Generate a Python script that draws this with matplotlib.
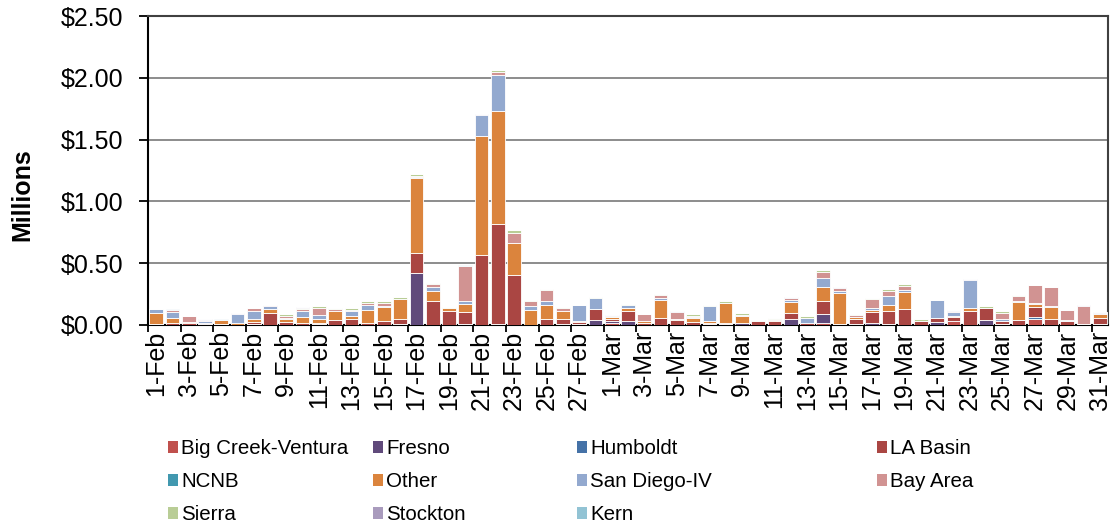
import numpy as np
import pandas as pd
import matplotlib
matplotlib.use('Agg')
import matplotlib.pyplot as plt
from matplotlib.patches import Patch

plt.rcParams['font.family'] = ['Liberation Sans', 'DejaVu Sans']

# one bar per day, 1-Feb .. 31-Mar
dates = pd.date_range('2011-02-01', '2011-03-31')
day_labels = [f'{d.day}-{d.strftime("%b")}' for d in dates]

# values in $ millions
big_creek = [0, 0, 0, 0, 0, 0, 0, 0, 0, 0,
             0, 0, 0, 0, 0, 0, 0, 0, 0, 0.01,
             0, 0, 0, 0, 0, 0, 0, 0, 0.02, 0,
             0, 0, 0, 0, 0, 0, 0, 0, 0, 0,
             0, 0.013, 0, 0, 0, 0, 0, 0, 0, 0.033,
             0, 0, 0, 0, 0.05, 0, 0, 0, 0]
fresno = [0, 0, 0, 0, 0, 0, 0.01, 0, 0, 0,
          0.005, 0, 0, 0, 0, 0.005, 0.423, 0, 0, 0,
          0, 0.005, 0, 0, 0, 0.005, 0.01, 0.04, 0.01, 0.035,
          0, 0, 0, 0, 0.01, 0.01, 0.02, 0, 0, 0.045,
          0, 0.074, 0.005, 0.005, 0.02, 0.005, 0, 0, 0.027, 0,
          0, 0.04, 0, 0, 0, 0, 0, 0, 0.01]
humboldt = [0, 0, 0, 0.008, 0.008, 0, 0, 0, 0, 0,
            0, 0, 0, 0, 0, 0, 0, 0, 0, 0,
            0, 0, 0, 0, 0, 0, 0, 0, 0, 0,
            0, 0, 0, 0, 0, 0, 0, 0, 0, 0,
            0, 0.005, 0, 0, 0, 0, 0, 0, 0, 0,
            0, 0, 0.005, 0, 0.013, 0, 0, 0, 0]
la_basin = [0.005, 0.013, 0.02, 0.01, 0, 0, 0.015, 0.1, 0.025, 0.02,
            0.015, 0.04, 0.045, 0.02, 0.035, 0.045, 0.16, 0.197, 0.11, 0.095,
            0.568, 0.81, 0.404, 0.003, 0.05, 0.04, 0.015, 0.09, 0.02, 0.075,
            0.02, 0.06, 0.04, 0.028, 0.01, 0.008, 0, 0.035, 0.03, 0.05,
            0.02, 0.1, 0, 0.04, 0.087, 0.11, 0.13, 0.035, 0.027, 0.03,
            0.115, 0.096, 0.03, 0.04, 0.08, 0.046, 0.033, 0.01, 0.046]
ncnb = [0] * 59
other = [0.09, 0.04, 0.003, 0, 0.035, 0.02, 0.02, 0.03, 0.025, 0.045,
         0.03, 0.07, 0.025, 0.105, 0.11, 0.16, 0.605, 0.076, 0.025, 0.063,
         0.96, 0.92, 0.262, 0.12, 0.11, 0.07, 0.005, 0, 0.015, 0.03,
         0.013, 0.14, 0.005, 0.027, 0.01, 0.16, 0.055, 0, 0.01, 0.09,
         0, 0.115, 0.25, 0.02, 0.013, 0.046, 0.14, 0, 0, 0.013,
         0.02, 0, 0, 0.145, 0.027, 0.1, 0, 0, 0.035]
san_diego = [0.035, 0.05, 0, 0.015, 0, 0.065, 0.07, 0.02, 0.01, 0.05,
             0.03, 0, 0.04, 0.04, 0.01, 0, 0.01, 0.035, 0, 0.03,
             0.17, 0.29, 0, 0.027, 0.033, 0, 0.13, 0.09, 0, 0.02,
             0, 0.02, 0.005, 0.01, 0.12, 0, 0.005, 0, 0, 0.015,
             0.04, 0.076, 0.02, 0, 0.02, 0.074, 0.013, 0, 0.145, 0.03,
             0.23, 0, 0.01, 0.01, 0.01, 0.01, 0.01, 0, 0.01]
bay_area = [0, 0.015, 0.05, 0.01, 0, 0.005, 0.02, 0.01, 0.01, 0.015,
            0.06, 0.02, 0.01, 0.015, 0.025, 0, 0.01, 0.02, 0, 0.276,
            0.005, 0.025, 0.08, 0.046, 0.09, 0.02, 0, 0, 0, 0,
            0.055, 0.02, 0.055, 0.01, 0, 0, 0, 0, 0.005, 0.015,
            0, 0.046, 0.027, 0.015, 0.07, 0.044, 0.035, 0, 0, 0.01,
            0, 0.005, 0.055, 0.04, 0.145, 0.15, 0.075, 0.145, 0]
sierra = [0, 0, 0, 0, 0, 0, 0, 0, 0.015, 0.008,
          0.012, 0.01, 0.015, 0.015, 0.015, 0.015, 0.01, 0.013, 0.01, 0,
          0, 0.01, 0.02, 0.01, 0.01, 0.01, 0.003, 0.01, 0.01, 0.01,
          0, 0.008, 0, 0.01, 0.01, 0.015, 0.015, 0.008, 0.01, 0,
          0.01, 0.015, 0, 0.008, 0.008, 0.013, 0.013, 0.01, 0, 0,
          0, 0.012, 0.01, 0.008, 0, 0, 0, 0, 0]
stockton = [0, 0.003, 0.003, 0.003, 0, 0.005, 0.003, 0.003, 0, 0.005,
            0, 0, 0, 0, 0, 0.005, 0.005, 0, 0.003, 0,
            0.005, 0.003, 0, 0, 0, 0, 0, 0, 0.003, 0,
            0.005, 0, 0.005, 0, 0, 0, 0, 0, 0, 0.008,
            0, 0, 0.005, 0.005, 0, 0, 0, 0, 0.003, 0.005,
            0.005, 0, 0, 0, 0, 0, 0, 0.01, 0.003]
kern = [0.003, 0.005, 0, 0, 0.003, 0, 0, 0, 0, 0,
        0, 0, 0, 0, 0, 0, 0, 0, 0, 0.013,
        0, 0, 0, 0, 0, 0, 0, 0, 0, 0,
        0, 0, 0, 0, 0, 0, 0, 0, 0, 0,
        0, 0, 0, 0, 0, 0, 0, 0, 0, 0,
        0, 0, 0, 0, 0, 0, 0, 0, 0]

series_names = ['Big Creek-Ventura', 'Fresno', 'Humboldt', 'LA Basin', 'NCNB', 'Other',
                'San Diego-IV', 'Bay Area', 'Sierra', 'Stockton', 'Kern']
series_vals = [big_creek, fresno, humboldt, la_basin, ncnb, other,
               san_diego, bay_area, sierra, stockton, kern]
colors = ['#C0504D', '#604A7B', '#4572A7', '#AA4643', '#4198AF', '#DB843D',
          '#93A9CF', '#D19392', '#B9CD96', '#A99BBD', '#92C3D4']

fig = plt.figure(figsize=(11.17, 5.27), dpi=100)
ax = fig.add_axes([148 / 1117, 1 - 325 / 527, 960 / 1117, 309 / 527])

x = np.arange(len(day_labels))
bottom = np.zeros(len(x))
for name, vals, col in zip(series_names, series_vals, colors):
    vals = np.array(vals, dtype=float)
    ax.bar(x, vals, 0.84, bottom=bottom, color=col, edgecolor='white',
           linewidth=0.6, zorder=3, label=name)
    bottom += vals

ax.set_xlim(-0.5, len(x) - 0.5)
ax.set_ylim(0, 2.5)
yt = np.arange(0, 2.51, 0.5)
ax.set_yticks(yt)
ax.set_yticklabels([f'${v:.2f}' for v in yt], fontsize=18)
ax.yaxis.grid(True, color='#8c8c8c', linewidth=1.4, zorder=0)
ax.set_axisbelow(True)

ax.set_xticks(x[::2])
ax.set_xticklabels(day_labels[::2], rotation=90, fontsize=18)
ax.tick_params(axis='x', which='major', length=0, pad=4)
ax.set_xticks(np.arange(-0.5, len(x) - 1, 2), minor=True)
ax.tick_params(axis='x', which='minor', length=5, width=1.3, direction='out')
ax.tick_params(axis='y', length=6.5, width=1.3, pad=11)

for side in ['left', 'bottom']:
    ax.spines[side].set_color('black')
    ax.spines[side].set_linewidth(1.5)
for side in ['top', 'right']:
    ax.spines[side].set_color('#404040')
    ax.spines[side].set_linewidth(1.5)

fig.text(22 / 1117, 1 - 195 / 527, 'Millions', rotation=90, fontsize=18,
         fontweight='bold', ha='center', va='center')

# legend laid out row by row in four columns, like the original
handles = [Patch(facecolor=c, edgecolor='none') for c in colors]
col_members = [[0, 4, 8], [1, 5, 9], [2, 6, 10], [3, 7]]
col_x = [168, 373, 577, 877]
for members, cx in zip(col_members, col_x):
    fig.legend([handles[i] for i in members], [series_names[i] for i in members],
               loc='upper left', bbox_to_anchor=(cx / 1117, 1 - 439 / 527),
               frameon=False, fontsize=14.8, borderpad=0, borderaxespad=0,
               handlelength=0.5, handleheight=0.5, handletextpad=0.15,
               labelspacing=0.68)

fig.savefig('out.png', dpi=100)
